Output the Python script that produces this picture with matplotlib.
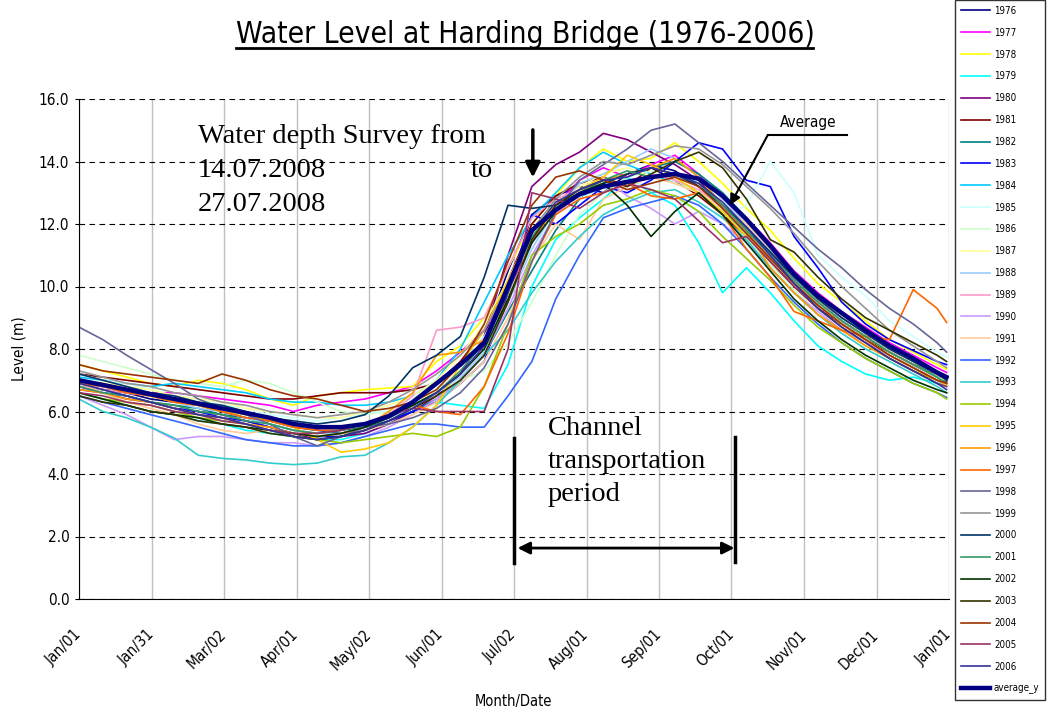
import numpy as np
import matplotlib
matplotlib.use("Agg")
import matplotlib.pyplot as plt
from matplotlib.lines import Line2D
from matplotlib import font_manager

# pick a condensed face if one is installed, else plain DejaVu
names = {f.name for f in font_manager.fontManager.ttflist}
NARROW = ['Liberation Sans Narrow'] if 'Liberation Sans Narrow' in names else ['DejaVu Sans']
COND = 'condensed'
SERIF = ['Liberation Serif', 'DejaVu Serif']

# day of year for each reading (every 10 days)
days = list(range(0, 361, 10)) + [364]

tick_labels = ['Jan/01', 'Jan/31', 'Mar/02', 'Apr/01', 'May/02', 'Jun/01', 'Jul/02',
               'Aug/01', 'Sep/01', 'Oct/01', 'Nov/01', 'Dec/01', 'Jan/01']

years = list(range(1976, 2007))
colors = ['#000080', '#FF00FF', '#FFFF00', '#00FFFF', '#800080', '#800000', '#008080',
          '#0000FF', '#00CCFF', '#CCFFFF', '#CCFFCC', '#FFFF99', '#99CCFF', '#FF99CC',
          '#CC99FF', '#FFCC99', '#3366FF', '#33CCCC', '#99CC00', '#FFCC00', '#FF9900',
          '#FF6600', '#666699', '#969696', '#003366', '#339966', '#003300', '#333300',
          '#993300', '#993366', '#333399']

# water levels (m)
y1976 = [6.8, 6.7, 6.6, 6.4, 6.3, 6.2, 6.0, 5.8, 5.7, 5.5, 5.4, 5.3, 5.5, 5.8, 6.2, 6.6, 7.2, 8.4, 10.5, 12.3,
         12.9, 13.2, 13.0, 13.6, 13.9, 13.7, 13.2, 12.6, 11.9, 11.0, 10.2, 9.5, 8.9, 8.4, 7.9, 7.5, 7.1, 6.95]
y1977 = [6.9, 6.8, 6.7, 6.6, 6.6, 6.5, 6.4, 6.3, 6.2, 6.0, 6.2, 6.3, 6.4, 6.6, 6.8, 7.3, 7.9, 8.6, 9.8, 11.4,
         12.6, 13.4, 13.8, 13.5, 13.9, 14.2, 13.6, 12.8, 12.2, 11.4, 10.5, 9.8, 9.2, 8.7, 8.2, 7.8, 7.4, 7.25]
y1978 = [7.5, 7.3, 7.1, 6.9, 6.8, 7.0, 6.9, 6.7, 6.4, 6.2, 6.5, 6.6, 6.7, 6.75, 6.8, 7.6, 8.1, 9.0, 10.6, 12.0,
         12.9, 13.8, 14.4, 14.0, 14.1, 14.6, 14.0, 13.3, 12.5, 11.8, 10.9, 10.1, 9.5, 8.9, 8.3, 7.9, 7.5, 7.35]
y1979 = [6.6, 6.4, 6.2, 6.0, 5.9, 5.7, 5.6, 5.4, 5.3, 5.2, 5.1, 5.1, 5.3, 5.6, 6.0, 6.3, 6.2, 6.1, 7.5, 10.0,
         11.5, 12.2, 12.8, 13.5, 13.0, 12.6, 11.4, 9.8, 10.6, 9.8, 8.9, 8.1, 7.6, 7.2, 7.0, 7.1, 6.9, 6.8]
y1980 = [6.7, 6.6, 6.4, 6.3, 6.1, 6.0, 5.9, 5.7, 5.5, 5.3, 5.1, 5.2, 5.3, 5.6, 6.0, 6.5, 7.2, 8.4, 11.0, 13.2,
         13.9, 14.3, 14.9, 14.7, 14.3, 13.9, 13.4, 12.5, 11.9, 11.1, 10.2, 9.5, 8.9, 8.4, 7.9, 7.5, 7.1, 7.0]
y1981 = [7.2, 7.1, 7.0, 6.9, 6.8, 6.7, 6.6, 6.5, 6.4, 6.4, 6.5, 6.6, 6.6, 6.6, 6.7, 6.9, 7.6, 8.6, 10.2, 12.0,
         12.9, 13.3, 13.5, 13.2, 13.8, 13.4, 12.9, 12.3, 11.6, 10.8, 10.0, 9.3, 8.8, 8.3, 7.9, 7.5, 7.2, 7.0]
y1982 = [6.9, 6.7, 6.5, 6.3, 6.2, 6.1, 5.9, 5.8, 5.6, 5.4, 5.3, 5.4, 5.5, 5.7, 6.0, 6.4, 7.0, 7.8, 9.2, 10.5,
         11.8, 12.8, 13.3, 13.6, 13.8, 14.0, 13.6, 13.0, 12.2, 11.2, 10.3, 9.6, 9.0, 8.5, 8.0, 7.6, 7.1, 6.9]
y1983 = [6.8, 6.6, 6.5, 6.3, 6.1, 6.0, 5.8, 5.7, 5.5, 5.3, 5.2, 5.2, 5.4, 5.7, 6.0, 6.3, 6.9, 7.6, 9.8, 12.3,
         12.0, 12.6, 13.2, 13.0, 13.4, 14.0, 14.6, 14.4, 13.4, 13.2, 11.6, 10.6, 9.5, 8.8, 8.3, 7.95, 7.6, 7.5]
y1984 = [7.1, 7.0, 6.9, 6.8, 6.9, 6.8, 6.7, 6.6, 6.4, 6.3, 6.3, 6.2, 6.2, 6.3, 6.5, 7.0, 8.0, 9.5, 11.0, 12.2,
         13.0, 13.8, 14.3, 13.9, 13.6, 13.3, 13.0, 12.4, 11.7, 10.9, 10.1, 9.4, 8.8, 8.3, 7.8, 7.4, 7.0, 6.8]
y1985 = [7.2, 7.0, 6.9, 6.7, 6.5, 6.4, 6.2, 6.1, 5.9, 5.8, 5.7, 5.8, 5.9, 6.1, 6.4, 6.8, 7.5, 8.4, 9.8, 11.2,
         12.3, 12.8, 13.2, 13.4, 13.1, 12.8, 12.4, 12.2, 12.6, 14.0, 13.0, 11.0, 10.3, 9.7, 8.9, 8.4, 7.9, 7.75]
y1986 = [7.8, 7.6, 7.4, 7.2, 7.0, 6.9, 6.8, 7.0, 6.9, 6.6, 6.3, 6.0, 5.9, 6.0, 6.2, 6.6, 7.0, 7.3, 8.2, 9.5,
         11.0, 12.3, 13.0, 13.5, 13.7, 13.4, 13.0, 12.4, 11.6, 10.7, 9.9, 9.2, 8.6, 8.1, 7.7, 7.3, 7.0, 6.9]
y1987 = [7.0, 6.9, 6.8, 6.7, 6.5, 6.4, 6.3, 6.1, 6.0, 5.9, 5.8, 5.8, 6.0, 6.2, 6.5, 7.0, 7.8, 8.8, 10.2, 11.8,
         12.7, 13.2, 13.6, 13.8, 13.5, 13.3, 13.0, 12.6, 11.9, 11.0, 10.2, 9.5, 8.9, 8.4, 7.9, 7.5, 7.1, 7.0]
y1988 = [6.9, 6.8, 6.6, 6.5, 6.3, 6.1, 6.0, 5.8, 5.6, 5.4, 5.3, 5.3, 5.5, 5.8, 6.1, 6.6, 7.1, 7.9, 9.5, 11.2,
         12.5, 13.3, 13.6, 14.0, 14.4, 14.1, 13.5, 12.8, 12.0, 11.1, 10.3, 9.6, 9.0, 8.5, 8.0, 7.6, 7.2, 7.05]
y1989 = [6.8, 6.7, 6.6, 6.5, 6.4, 6.3, 6.1, 6.0, 5.8, 5.6, 5.5, 5.5, 5.6, 5.9, 6.5, 8.6, 8.7, 9.0, 10.6, 12.2,
         12.8, 13.1, 13.4, 13.2, 13.6, 13.4, 13.1, 12.5, 11.8, 10.9, 10.1, 9.4, 8.8, 8.3, 7.8, 7.4, 7.0, 6.9]
y1990 = [6.5, 6.2, 5.9, 5.5, 5.1, 5.2, 5.2, 5.1, 5.0, 5.0, 4.9, 5.0, 5.2, 5.5, 5.9, 6.4, 7.0, 7.8, 9.3, 11.0,
         12.3, 13.0, 13.5, 12.9, 12.5, 12.0, 12.4, 12.0, 11.4, 10.6, 9.8, 9.2, 8.6, 8.2, 7.8, 7.4, 7.0, 6.8]
y1991 = [6.9, 6.6, 6.3, 6.1, 5.9, 5.6, 5.4, 5.3, 5.4, 5.3, 5.2, 5.3, 5.4, 5.6, 5.9, 6.3, 6.9, 7.6, 9.0, 10.8,
         12.0, 11.5, 12.8, 13.2, 13.5, 13.3, 13.0, 12.6, 12.0, 11.2, 10.4, 9.6, 9.0, 8.5, 8.0, 7.6, 7.2, 7.05]
y1992 = [6.5, 6.3, 6.1, 5.9, 5.7, 5.5, 5.3, 5.1, 5.0, 4.9, 4.9, 5.0, 5.2, 5.4, 5.6, 5.6, 5.5, 5.5, 6.5, 7.6,
         9.6, 11.0, 12.2, 12.5, 12.7, 12.9, 12.6, 12.0, 11.2, 10.3, 9.5, 8.8, 8.2, 7.7, 7.3, 6.9, 6.6, 6.45]
y1993 = [6.4, 6.0, 5.8, 5.5, 5.15, 4.6, 4.5, 4.45, 4.35, 4.3, 4.35, 4.55, 4.6, 5.0, 5.5, 6.2, 7.0, 7.8, 8.6, 9.8,
         10.8, 11.6, 12.3, 12.7, 13.0, 13.1, 12.7, 12.2, 11.5, 10.6, 9.8, 9.1, 8.5, 8.0, 7.6, 7.2, 6.8, 6.6]
y1994 = [6.6, 6.4, 6.3, 6.2, 6.0, 5.8, 5.7, 5.6, 5.4, 5.2, 5.1, 5.0, 5.1, 5.2, 5.3, 5.2, 5.5, 6.8, 8.8, 11.0,
         11.6, 12.0, 12.6, 12.8, 13.1, 12.9, 12.4, 11.6, 10.9, 10.2, 9.4, 8.7, 8.2, 7.7, 7.3, 6.9, 6.6, 6.4]
y1995 = [7.0, 6.9, 6.7, 6.5, 6.3, 6.2, 6.0, 5.9, 5.7, 5.5, 5.1, 4.7, 4.8, 5.0, 5.5, 6.2, 7.5, 8.6, 10.2, 11.8,
         12.6, 13.1, 13.5, 14.2, 13.9, 13.5, 13.0, 12.4, 11.6, 10.9, 10.1, 9.4, 8.8, 8.3, 7.8, 7.4, 7.0, 6.85]
y1996 = [6.7, 6.6, 6.4, 6.3, 6.1, 5.9, 5.8, 5.6, 5.5, 5.3, 5.2, 5.3, 5.5, 6.0, 6.6, 7.8, 7.9, 8.3, 9.6, 11.5,
         12.5, 13.0, 13.4, 13.6, 13.8, 14.1, 13.5, 12.6, 11.8, 10.6, 9.8, 9.1, 8.6, 8.1, 7.7, 7.3, 7.0, 6.9]
y1997 = [6.9, 6.8, 6.6, 6.5, 6.3, 6.2, 6.0, 5.8, 5.7, 5.5, 5.4, 5.4, 5.6, 5.9, 6.2, 6.0, 5.9, 6.8, 8.5, 10.8,
         12.3, 12.8, 13.0, 13.3, 12.9, 12.8, 13.0, 12.3, 11.2, 10.3, 9.2, 8.9, 8.6, 8.4, 8.3, 9.9, 9.3, 8.85]
y1998 = [8.7, 8.3, 7.8, 7.35, 6.9, 6.4, 6.1, 5.9, 5.6, 5.2, 4.9, 5.2, 5.5, 5.6, 5.8, 6.1, 6.6, 7.4, 8.8, 10.8,
         12.4, 13.4, 13.9, 14.4, 15.0, 15.2, 14.6, 14.0, 13.3, 12.6, 11.9, 11.2, 10.6, 9.9, 9.3, 8.8, 8.2, 7.9]
y1999 = [7.3, 7.1, 6.9, 6.8, 6.6, 6.5, 6.3, 6.2, 6.0, 5.9, 5.8, 5.9, 6.0, 6.3, 6.7, 7.2, 7.8, 8.6, 10.0, 11.8,
         12.8, 13.5, 14.0, 13.9, 14.2, 14.5, 14.4, 13.9, 13.2, 12.5, 11.7, 10.8, 10.0, 9.3, 8.6, 8.1, 7.6, 7.4]
y2000 = [7.2, 7.0, 6.8, 6.6, 6.5, 6.3, 6.2, 6.0, 5.8, 5.7, 5.6, 5.7, 5.9, 6.5, 7.4, 7.8, 8.4, 10.3, 12.6, 12.5,
         12.6, 13.0, 13.3, 13.6, 13.8, 13.6, 13.2, 12.6, 11.9, 11.1, 10.3, 9.6, 9.0, 8.5, 8.0, 7.6, 7.2, 7.0]
y2001 = [6.8, 6.6, 6.5, 6.3, 6.2, 6.0, 5.9, 5.7, 5.6, 5.4, 5.3, 5.4, 5.6, 5.9, 6.2, 6.6, 7.3, 8.2, 9.9, 11.6,
         12.5, 13.0, 13.4, 13.7, 13.5, 13.6, 13.3, 12.6, 11.8, 11.0, 10.2, 9.5, 8.9, 8.4, 7.9, 7.5, 7.1, 6.9]
y2002 = [6.6, 6.4, 6.2, 6.0, 5.9, 5.8, 5.6, 5.5, 5.4, 5.3, 5.2, 5.3, 5.5, 5.8, 6.2, 6.6, 7.2, 8.0, 9.6, 11.4,
         12.4, 13.0, 13.3, 12.6, 11.6, 12.4, 13.0, 12.3, 11.4, 10.5, 9.6, 8.9, 8.3, 7.8, 7.4, 7.0, 6.7, 6.6]
y2003 = [6.5, 6.3, 6.2, 6.0, 5.9, 5.7, 5.6, 5.5, 5.3, 5.2, 5.1, 5.2, 5.4, 5.7, 6.1, 6.5, 7.0, 7.8, 9.5, 11.5,
         12.6, 13.1, 13.4, 13.2, 13.6, 14.0, 14.3, 13.8, 12.8, 11.5, 11.1, 10.3, 9.6, 9.0, 8.6, 8.2, 7.8, 7.6]
y2004 = [7.5, 7.3, 7.2, 7.1, 7.0, 6.9, 7.2, 7.0, 6.7, 6.5, 6.4, 6.2, 6.0, 6.1, 6.3, 6.7, 7.5, 8.8, 10.8, 12.6,
         13.5, 13.7, 13.4, 13.1, 13.3, 13.5, 13.2, 12.5, 11.7, 10.9, 10.1, 9.4, 8.8, 8.3, 7.8, 7.4, 7.0, 6.9]
y2005 = [6.6, 6.5, 6.3, 6.2, 6.0, 5.9, 5.7, 5.6, 5.4, 5.3, 5.3, 5.4, 5.6, 5.9, 6.1, 6.0, 6.0, 6.0, 8.0, 13.0,
         12.8, 12.5, 13.0, 13.3, 13.1, 12.8, 12.1, 11.4, 11.6, 10.8, 10.0, 9.3, 8.7, 8.2, 7.7, 7.3, 6.9, 6.8]
y2006 = [6.9, 6.7, 6.5, 6.3, 6.1, 5.9, 5.8, 5.6, 5.4, 5.2, 5.1, 5.2, 5.4, 5.7, 6.1, 6.6, 7.2, 8.1, 9.8, 11.7,
         12.7, 13.1, 13.4, 13.5, 13.8, 13.6, 13.3, 12.7, 11.9, 11.0, 10.1, 9.3, 8.7, 8.2, 7.7, 7.3, 6.9, 6.7]
average_y = [7.0, 6.85, 6.7, 6.55, 6.4, 6.25, 6.1, 5.95, 5.8, 5.6, 5.5, 5.5, 5.6, 5.85, 6.3, 6.9, 7.5, 8.2, 10.0, 11.8,
             12.45, 12.95, 13.2, 13.35, 13.5, 13.6, 13.45, 12.9, 12.15, 11.3, 10.4, 9.7, 9.15, 8.6, 8.1, 7.7, 7.25, 7.1]

series = [y1976, y1977, y1978, y1979, y1980, y1981, y1982, y1983, y1984, y1985, y1986,
          y1987, y1988, y1989, y1990, y1991, y1992, y1993, y1994, y1995, y1996, y1997,
          y1998, y1999, y2000, y2001, y2002, y2003, y2004, y2005, y2006]

fig = plt.figure(figsize=(10.48, 7.09), dpi=100)
ax = fig.add_axes([79 / 1048, 110 / 709, 870 / 1048, 500 / 709])

for yr, vals, col in zip(years, series, colors):
    ax.plot(days, vals, color=col, lw=1.2, label=str(yr))
ax.plot(days, average_y, color='#000080', lw=3.2, label='average_y')

ax.set_xlim(0, 365)
ax.set_ylim(0, 16)
ax.set_yticks(np.arange(0, 17, 2))
ax.set_yticklabels([f'{v:.1f}' for v in np.arange(0, 17, 2)], family=NARROW,
                   stretch=COND, fontsize=11)
ax.set_xticks(np.linspace(0, 365, 13))
ax.set_xticklabels(tick_labels, rotation=45, ha='right', va='center',
                   rotation_mode='anchor', family=NARROW, stretch=COND, fontsize=11)
ax.tick_params(axis='x', length=0, pad=24)
ax.tick_params(axis='y', length=3, pad=4)
ax.yaxis.grid(True, color='black', ls=(0, (5, 4)), lw=0.8)
ax.xaxis.grid(True, color='#c0c0c0', lw=1)
ax.set_axisbelow(True)
for s in ['top', 'right']:
    ax.spines[s].set_visible(False)
ax.set_ylabel('Level (m)', family=NARROW, stretch=COND, fontsize=11, labelpad=9)
ax.set_xlabel('Month/Date', family=NARROW, stretch=COND, fontsize=10.5, labelpad=15)

# title with underline
fig.text(0.501, 1 - 43 / 709, 'Water Level at Harding Bridge (1976-2006)', ha='center',
         va='baseline', family=NARROW, stretch=COND, fontsize=21.5)
fig.add_artist(Line2D([236 / 1048, 813 / 1048], [1 - 48 / 709, 1 - 48 / 709], color='black', lw=2))

# survey annotation
ax.text(49.9, 14.59, 'Water depth Survey from', family=SERIF, fontsize=20.5, va='baseline')
ax.text(49.9, 13.5, '14.07.2008', family=SERIF, fontsize=20.5, va='baseline')
ax.text(173.7, 13.5, 'to', family=SERIF, fontsize=20.5, va='baseline', ha='right')
ax.text(49.9, 12.42, '27.07.2008', family=SERIF, fontsize=20.5, va='baseline')
ax.annotate('', xy=(190.4, 13.4), xytext=(190.4, 15.1),
            arrowprops=dict(arrowstyle='-|>', color='black', lw=2.5, mutation_scale=22))

# channel transportation period
ax.text(196.7, 5.25, 'Channel', family=SERIF, fontsize=20.5, va='baseline')
ax.text(196.7, 4.19, 'transportation', family=SERIF, fontsize=20.5, va='baseline')
ax.text(196.7, 3.14, 'period', family=SERIF, fontsize=20.5, va='baseline')
ax.plot([182.5, 182.5], [1.15, 5.15], color='black', lw=2.5)
ax.plot([275.2, 275.2], [1.18, 5.18], color='black', lw=2.5)
ax.annotate('', xy=(275.0, 1.63), xytext=(184.0, 1.63),
            arrowprops=dict(arrowstyle='<|-|>', color='black', lw=2, mutation_scale=18,
                            shrinkA=0, shrinkB=0))

# average label
ax.text(305.8, 15.26, 'Average', family=NARROW, stretch=COND, fontsize=11,
        ha='center', va='center')
ax.plot([289, 322], [14.85, 14.85], color='black', lw=1.5)
ax.annotate('', xy=(273.1, 12.6), xytext=(289, 14.85),
            arrowprops=dict(arrowstyle='-|>', color='black', lw=1.5, mutation_scale=16,
                            shrinkA=0, shrinkB=0))

handles, labels = ax.get_legend_handles_labels()
leg = fig.legend(handles, labels, loc='upper left', bbox_to_anchor=(955 / 1048, 1.0),
                 frameon=True, fancybox=False, edgecolor='black', borderaxespad=0,
                 prop={'family': NARROW, 'stretch': COND, 'size': 7}, labelspacing=1.22,
                 handlelength=3.0, handletextpad=0.4, borderpad=0.6)
leg.get_frame().set_linewidth(1.0)

fig.savefig('out.png', dpi=100)
